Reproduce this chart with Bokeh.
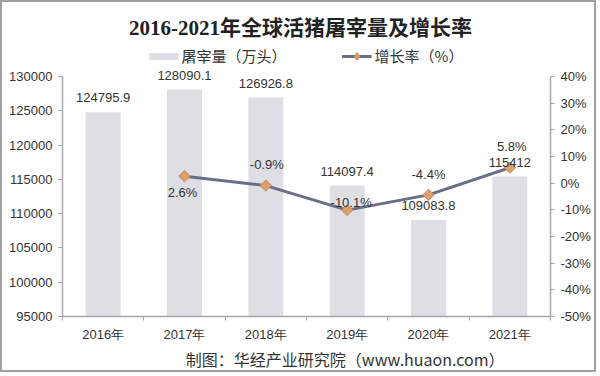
from bokeh.plotting import figure
from bokeh.models import (ColumnDataSource, FactorRange, Range1d, LinearAxis, FixedTicker,
                          NumeralTickFormatter, PrintfTickFormatter, LabelSet, Label, Legend,
                          LegendItem, Title)
from bokeh.core.properties import value
from bokeh.embed import file_html
from bokeh.resources import INLINE
import math

# ---- data ----
years = ["2016年", "2017年", "2018年", "2019年", "2020年", "2021年"]
slaughter = [124795.9, 128090.1, 126926.8, 114097.4, 109083.8, 115412]
growth_years = ["2017年", "2018年", "2019年", "2020年", "2021年"]
growth = [2.6, -0.9, -10.1, -4.4, 5.8]
left_ticks = [95000, 100000, 105000, 110000, 115000, 120000, 125000, 130000]
right_ticks = [-50, -40, -30, -20, -10, 0, 10, 20, 30, 40]

title_text = "2016-2021年全球活猪屠宰量及增长率"
bar_name = "屠宰量（万头）"
line_name = "增长率（%）"
source_text = "制图：华经产业研究院（www.huaon.com）"

# ---- layout (pixels) ----
PLOT_H = 240          # height of the axis area
HEAD_H = 74           # space above the axis area (title + legend), inside the frame
L_MIN, L_MAX = left_ticks[0], left_ticks[-1]
R_MIN, R_MAX = right_ticks[0], right_ticks[-1]
l_per_px = (L_MAX - L_MIN) / PLOT_H
r_per_px = (R_MAX - R_MIN) / PLOT_H

growth_dx = [-2, 1, 4, 0, 2]
growth_dy = [-16, 21, 8, 20, 21]

FONT = "Liberation Sans"
CJK = "Noto Sans CJK SC"
TXT = "#333333"
AXC = "#a6a6a6"
BAR_C = "#dedfe5"
LINE_C = "#6b6e88"
MARK_C = "#dca06c"

def fmt(v):
    return ("%.1f" % v).rstrip("0").rstrip(".")

bar_src = ColumnDataSource(dict(x=years, y=slaughter, t=[fmt(v) for v in slaughter]))
g_src = ColumnDataSource(dict(x=growth_years, y=growth, t=[fmt(v) + "%" for v in growth],
                              dx=growth_dx, dy=growth_dy))
nan_src = ColumnDataSource(dict(x=years, y=[float("nan")] * len(years)))  # legend-only

p = figure(width=596, height=372, output_backend="svg", toolbar_location=None,
           x_range=FactorRange(*years),
           y_range=Range1d(L_MIN, L_MAX + HEAD_H * l_per_px),
           min_border_left=60, min_border_right=48, min_border_top=0, min_border_bottom=58,
           x_axis_location=None, y_axis_location=None)
p.styles = {"border": "2px solid #a0a0a0"}
p.extra_y_ranges = {"g": Range1d(R_MIN, R_MAX + HEAD_H * r_per_px)}
p.outline_line_color = None
p.xgrid.visible = False
p.ygrid.visible = False
p.background_fill_color = "white"
p.border_fill_color = "white"

# bars
p.vbar(x="x", top="y", bottom=L_MIN, width=0.43, source=bar_src, color=BAR_C, line_color=None)

# line + markers
lr = p.line(x="x", y="y", source=g_src, y_range_name="g", line_color=LINE_C, line_width=3)
sr = p.scatter(x="x", y="y", source=g_src, y_range_name="g", marker="square", size=8,
               angle=math.pi / 4, fill_color=MARK_C, line_color="#c98a55", line_width=1)

# legend-only glyphs (NaN data, draw nothing in the plot)
br = p.line(x="x", y="y", source=nan_src, line_color=BAR_C, line_width=7)
dr = p.scatter(x="x", y="y", source=nan_src, marker="diamond", size=9,
               fill_color=MARK_C, line_color="#c98a55", line_width=1)

# axes
la = LinearAxis(ticker=FixedTicker(ticks=left_ticks), formatter=NumeralTickFormatter(format="0"),
                bounds=(L_MIN, L_MAX))
ra = LinearAxis(y_range_name="g", ticker=FixedTicker(ticks=right_ticks),
                formatter=PrintfTickFormatter(format="%d%%"), bounds=(R_MIN, R_MAX))
ba = LinearAxis(ticker=FixedTicker(ticks=[i + 0.5 for i in range(len(years))],
                                   minor_ticks=list(range(len(years) + 1))),
                major_label_overrides={i + 0.5: y for i, y in enumerate(years)})
for ax in (la, ra, ba):
    ax.axis_line_color = AXC
    ax.axis_line_width = 1.5
    ax.major_tick_line_color = AXC
    ax.major_tick_in = 0
    ax.major_tick_out = 4
    ax.minor_tick_line_color = None
    ax.major_label_text_font = FONT
    ax.major_label_text_font_size = "13px"
    ax.major_label_text_color = TXT
    ax.major_label_standoff = 6
ba.major_tick_line_color = None
ba.major_tick_out = 0
ba.minor_tick_line_color = AXC
ba.minor_tick_in = 0
ba.minor_tick_out = 4
ba.major_label_standoff = 6
p.add_layout(la, "left")
p.add_layout(ra, "right")
p.add_layout(ba, "below")

# data labels
p.add_layout(LabelSet(x="x", y="y", text="t", source=bar_src, text_align="center",
                      text_baseline="alphabetic", y_offset=10, text_font=value(FONT),
                      text_font_size="13px", text_color=TXT))
p.add_layout(LabelSet(x="x", y="y", text="t", source=g_src, y_range_name="g",
                      text_align="center", text_baseline="middle", x_offset="dx", y_offset="dy",
                      text_font=value(FONT), text_font_size="13px", text_color=TXT))

# title (inside the frame's head space)
p.add_layout(Label(x=len(years) / 2, y=L_MAX + (HEAD_H - 25) * l_per_px, text=title_text,
                   x_offset=-6, text_align="center", text_baseline="middle",
                   text_font="'Liberation Serif', 'Noto Sans CJK SC'",
                   text_font_size="21px", text_font_style="bold", text_color="#222222"))

# legend (inside the frame's head space)
leg = Legend(items=[LegendItem(label=bar_name, renderers=[br]),
                    LegendItem(label=line_name, renderers=[lr, dr])],
             orientation="horizontal", location="top_center", padding=0, margin=43,
             spacing=55, glyph_width=30, glyph_height=20, label_standoff=3,
             label_text_font=CJK, label_text_font_size="15px", label_text_color=TXT,
             border_line_color=None, background_fill_alpha=0)
p.add_layout(leg, "center")

# source
p.add_layout(Title(text=source_text, align="right", text_font=CJK,
                   text_font_size="16px", text_font_style="normal", text_color=TXT,
                   standoff=0, offset=46), "below")

open("out.html", "w").write(file_html(p, INLINE))
